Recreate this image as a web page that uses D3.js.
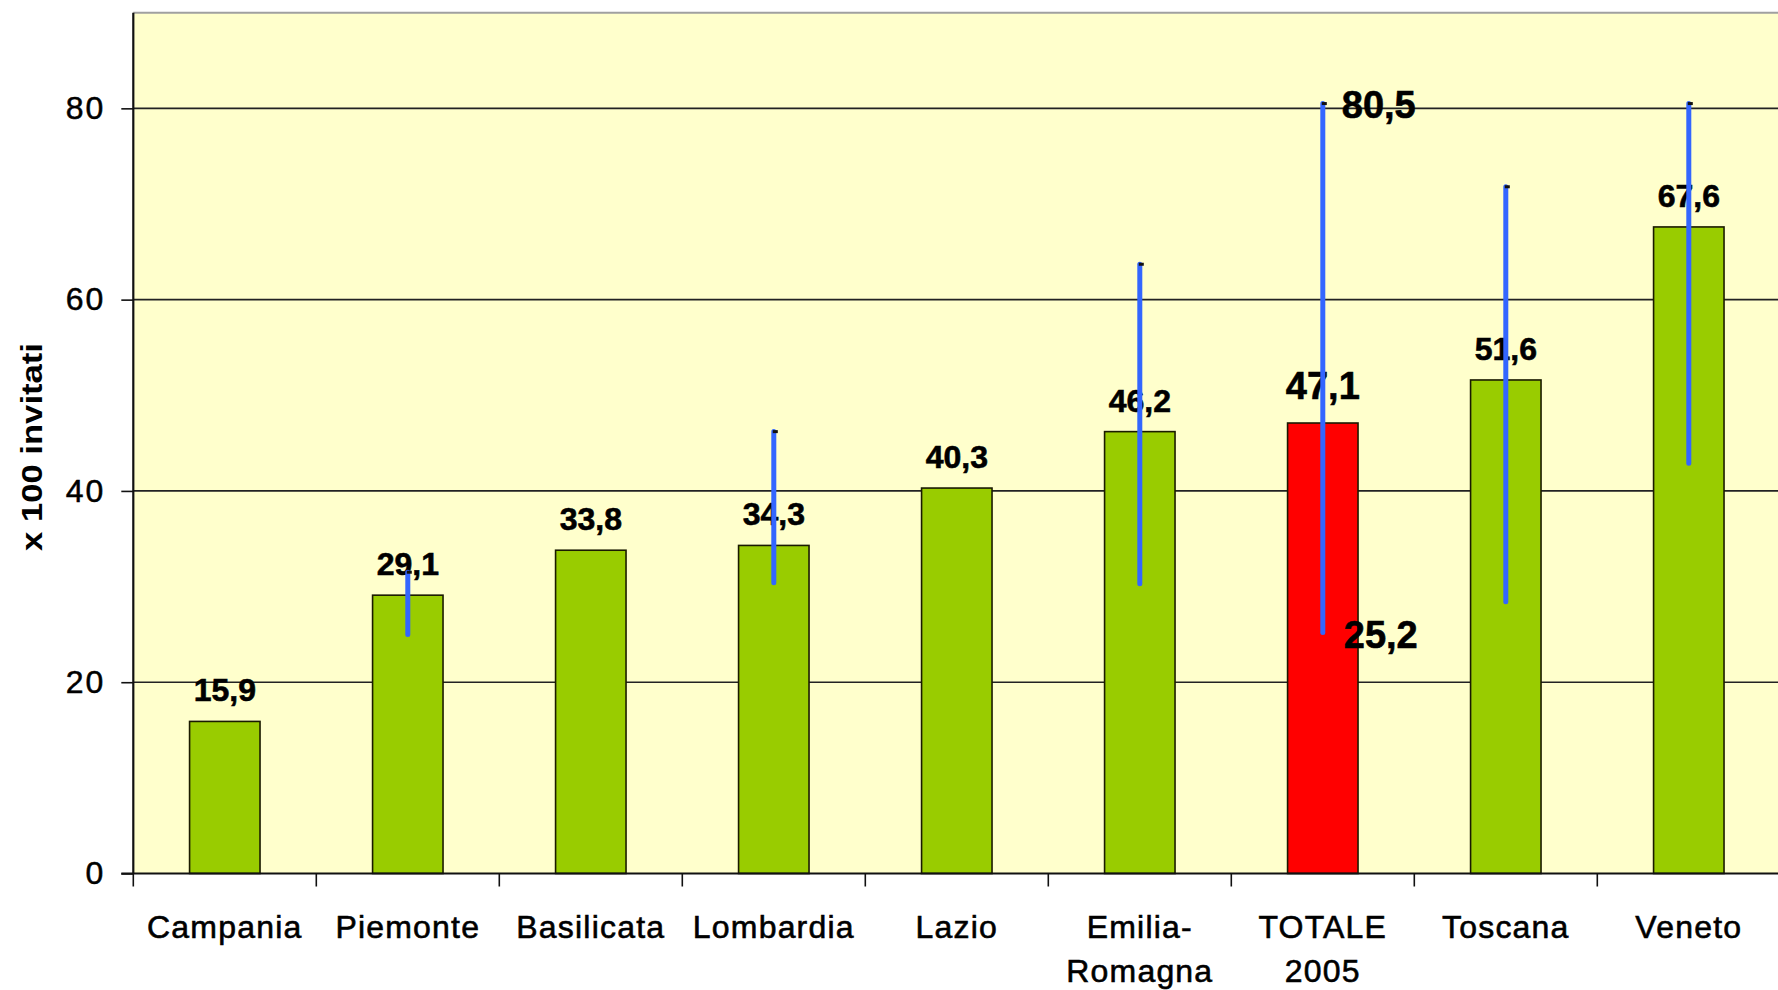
<!DOCTYPE html>
<html>
<head>
<meta charset="utf-8">
<script src="https://cdn.jsdelivr.net/npm/d3@7"></script>
<style>
  html, body { margin: 0; padding: 0; background: #ffffff; }
  svg { display: block; }
  text { font-family: "Liberation Sans", Arial, sans-serif; fill: #000; }
</style>
</head>
<body>
<svg id="chart" width="1778" height="990"></svg>
<script>
// Regions and their rate (x 100 invitati)
const categories = ["Campania", "Piemonte", "Basilicata", "Lombardia", "Lazio",
                    "Emilia-\nRomagna", "TOTALE\n2005", "Toscana", "Veneto"];
const values = [15.9, 29.1, 33.8, 34.3, 40.3, 46.2, 47.1, 51.6, 67.6];
// Range (min - max) shown as vertical lines; null where there is none
const rangeLow  = [null, 25.0, null, 30.4, null, 30.3, 25.2, 28.4, 42.9];
const rangeHigh = [null, 31.5, null, 46.2, null, 63.7, 80.5, 71.8, 80.5];
const totalIndex = 6;
const yTicks = [0, 20, 40, 60, 80];

(function drawChart() {
  const svg = d3.select("#chart");
  const plotLeft = 133.3, plotTop = 12.7, plotBottom = 873.5, step = 183;
  const plotRight = plotLeft + step * categories.length;

  const x = d3.scaleBand()
    .domain(d3.range(categories.length))
    .range([plotLeft, plotRight])
    .paddingInner(0.615)
    .paddingOuter(0.3075);

  const y = d3.scaleLinear().domain([0, 90]).range([plotBottom, plotTop]);

  // plot area
  svg.append("rect")
    .attr("x", plotLeft).attr("y", plotTop)
    .attr("width", plotRight - plotLeft).attr("height", plotBottom - plotTop)
    .attr("fill", "#ffffcc");
  svg.append("line")
    .attr("x1", plotLeft).attr("x2", plotRight)
    .attr("y1", plotTop).attr("y2", plotTop)
    .attr("stroke", "#a0a0a0").attr("stroke-width", 2);

  // gridlines
  svg.append("g").selectAll("line")
    .data(yTicks.filter(d => d > 0))
    .join("line")
    .attr("x1", plotLeft).attr("x2", plotRight)
    .attr("y1", d => y(d)).attr("y2", d => y(d))
    .attr("stroke", "#222").attr("stroke-width", 1.6);

  // y axis
  const yAxis = d3.axisLeft(y).tickValues(yTicks).tickSize(12).tickPadding(16)
    .tickFormat(d3.format("d"));
  const gy = svg.append("g").attr("transform", `translate(${plotLeft},0)`).call(yAxis);
  gy.select(".domain").attr("stroke", "#111").attr("stroke-width", 2.2)
    .attr("d", `M0,${plotTop}V${plotBottom}`);
  gy.selectAll(".tick line").attr("stroke", "#111").attr("stroke-width", 1.6);
  gy.selectAll(".tick text")
    .style("font-family", "'Liberation Sans', Arial, sans-serif")
    .style("font-size", "32px")
    .style("letter-spacing", "2px")
    .attr("fill", "#000")
    .attr("stroke", "#000").attr("stroke-width", 0.5);

  // axis title
  svg.append("text")
    .attr("transform", `translate(42,447) rotate(-90)`)
    .attr("text-anchor", "middle")
    .attr("font-weight", "bold")
    .attr("font-size", 30)
    .attr("textLength", 208)
    .attr("lengthAdjust", "spacingAndGlyphs")
    .text("x 100 invitati");

  // bars
  svg.append("g").selectAll("rect")
    .data(values)
    .join("rect")
    .attr("x", (d, i) => x(i))
    .attr("y", d => y(d))
    .attr("width", x.bandwidth())
    .attr("height", d => plotBottom - y(d))
    .attr("fill", (d, i) => i === totalIndex ? "#ff0000" : "#99cc00")
    .attr("stroke", "#1a1a00").attr("stroke-width", 1.6);

  // x axis baseline and ticks at category boundaries
  svg.append("line")
    .attr("x1", plotLeft - 12).attr("x2", plotRight)
    .attr("y1", plotBottom).attr("y2", plotBottom)
    .attr("stroke", "#111").attr("stroke-width", 2);
  svg.append("g").selectAll("line")
    .data(d3.range(categories.length + 1))
    .join("line")
    .attr("x1", i => plotLeft + i * x.step()).attr("x2", i => plotLeft + i * x.step())
    .attr("y1", plotBottom).attr("y2", plotBottom + 13)
    .attr("stroke", "#111").attr("stroke-width", 1.6);

  // value labels
  const cx = i => x(i) + x.bandwidth() / 2;
  const fmt = v => d3.format(".1f")(v).replace(".", ",");
  svg.append("g").selectAll("text")
    .data(values)
    .join("text")
    .attr("x", (d, i) => cx(i))
    .attr("y", (d, i) => y(d) - (i === totalIndex ? 24 : 20))
    .attr("text-anchor", "middle")
    .attr("font-weight", "bold")
    .attr("font-size", (d, i) => i === totalIndex ? 38 : 32)
    .attr("stroke", "#000").attr("stroke-width", 0.6)
    .text(d => fmt(d));

  // range lines
  const ranges = values.map((v, i) => ({ i, lo: rangeLow[i], hi: rangeHigh[i] }))
    .filter(r => r.lo !== null);
  const gr = svg.append("g");
  gr.selectAll("line")
    .data(ranges)
    .join("line")
    .attr("x1", r => cx(r.i)).attr("x2", r => cx(r.i))
    .attr("y1", r => y(r.hi)).attr("y2", r => y(r.lo))
    .attr("stroke", "#3366ff").attr("stroke-width", 5)
    .attr("stroke-linecap", "round");
  gr.selectAll("rect")
    .data(ranges)
    .join("rect")
    .attr("x", r => cx(r.i) - 1).attr("y", r => y(r.hi) - 1.5)
    .attr("width", 5).attr("height", 3)
    .attr("fill", "#111");

  // min / max labels for the total
  svg.append("text")
    .attr("x", cx(totalIndex) + 19).attr("y", y(rangeHigh[totalIndex]) + 14)
    .attr("font-weight", "bold").attr("font-size", 38)
    .attr("stroke", "#000").attr("stroke-width", 0.6)
    .text(fmt(rangeHigh[totalIndex]));
  svg.append("text")
    .attr("x", cx(totalIndex) + 21).attr("y", y(rangeLow[totalIndex]) + 16)
    .attr("font-weight", "bold").attr("font-size", 38)
    .attr("stroke", "#000").attr("stroke-width", 0.6)
    .text(fmt(rangeLow[totalIndex]));

  // category labels
  const gl = svg.append("g");
  categories.forEach((c, i) => {
    const t = gl.append("text")
      .attr("x", cx(i)).attr("y", 938)
      .attr("text-anchor", "middle")
      .attr("font-size", 32)
      .attr("letter-spacing", 1.2)
      .attr("stroke", "#000").attr("stroke-width", 0.6);
    c.split("\n").forEach((line, k) => {
      t.append("tspan").attr("x", cx(i)).attr("dy", k === 0 ? 0 : 44).text(line);
    });
  });
})();
</script>
</body>
</html>
